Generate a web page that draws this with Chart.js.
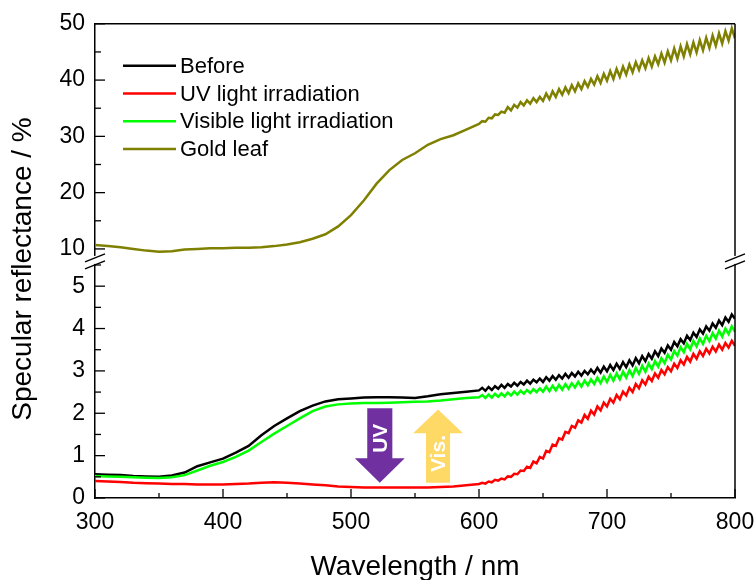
<!DOCTYPE html>
<html><head><meta charset="utf-8">
<script src="https://cdn.jsdelivr.net/npm/chart.js@4.4.1/dist/chart.umd.min.js"></script>
<style>html,body{margin:0;padding:0;background:#fff}canvas{display:block}</style>
</head><body>
<canvas id="c" width="756" height="580"></canvas>
<script>
// ---------------- data ----------------
const wavelengths = [300,310,320,330,340,350,360,370,380,390,400,410,420,430,440,450,460,470,480,490,500,510,520,530,540,550,560,570,580,590,600,
602.5,605,607.5,610,612.5,615,617.5,620,622.5,625,627.5,630,632.5,635,637.5,640,642.5,645,647.5,650,
652.5,655,657.5,660,662.5,665,667.5,670,672.5,675,677.5,680,682.5,685,687.5,690,692.5,695,697.5,700,
702.5,705,707.5,710,712.5,715,717.5,720,722.5,725,727.5,730,732.5,735,737.5,740,742.5,745,747.5,750,
752.5,755,757.5,760,762.5,765,767.5,770,772.5,775,777.5,780,782.5,785,787.5,790,792.5,795,797.5,800];

const before = [0.56,0.55,0.54,0.52,0.51,0.50,0.53,0.60,0.75,0.84,0.93,1.07,1.23,1.48,1.70,1.88,2.05,2.18,2.28,2.33,2.35,2.37,2.38,2.38,2.37,2.36,2.40,2.45,2.48,2.51,2.54,
2.60,2.53,2.62,2.55,2.64,2.58,2.67,2.60,2.69,2.63,
2.72,2.65,2.74,2.68,2.77,2.70,2.79,2.73,2.82,2.74,
2.85,2.77,2.88,2.79,2.90,2.82,2.93,2.84,2.95,2.87,
2.98,2.89,3.00,2.92,3.03,2.94,3.07,2.96,3.10,2.99,
3.14,3.02,3.17,3.05,3.21,3.09,3.25,3.13,3.30,3.18,
3.35,3.23,3.40,3.29,3.46,3.35,3.53,3.43,3.60,3.50,
3.68,3.58,3.75,3.65,3.83,3.73,3.90,3.80,3.98,3.88,
4.05,3.95,4.12,4.02,4.19,4.08,4.26,4.16,4.33,4.23];

const uvIrradiation = [0.40,0.39,0.38,0.36,0.35,0.34,0.33,0.33,0.32,0.32,0.32,0.33,0.34,0.36,0.37,0.36,0.34,0.32,0.30,0.27,0.26,0.25,0.25,0.25,0.25,0.25,0.25,0.26,0.27,0.30,0.33,
0.36,0.34,0.39,0.37,0.43,0.41,0.46,0.44,0.51,0.50,
0.57,0.56,0.65,0.64,0.74,0.71,0.86,0.82,0.97,0.93,
1.11,1.08,1.26,1.23,1.41,1.38,1.56,1.53,1.70,1.66,
1.83,1.78,1.96,1.87,2.06,1.97,2.16,2.07,2.25,2.16,
2.34,2.25,2.43,2.33,2.51,2.42,2.60,2.50,2.69,2.59,
2.78,2.68,2.86,2.76,2.94,2.84,3.02,2.92,3.09,2.99,
3.17,3.07,3.25,3.15,3.33,3.22,3.40,3.29,3.46,3.35,
3.52,3.41,3.57,3.46,3.62,3.50,3.66,3.55,3.71,3.59];

const visibleIrradiation = [0.52,0.51,0.50,0.49,0.48,0.47,0.49,0.54,0.65,0.76,0.85,0.97,1.12,1.32,1.52,1.70,1.88,2.05,2.16,2.21,2.23,2.24,2.24,2.25,2.26,2.27,2.28,2.30,2.33,2.36,2.38,
2.43,2.36,2.44,2.37,2.46,2.39,2.47,2.40,2.49,2.42,
2.51,2.44,2.53,2.46,2.55,2.48,2.57,2.50,2.59,2.51,
2.63,2.52,2.65,2.54,2.67,2.56,2.69,2.58,2.71,2.61,
2.74,2.63,2.77,2.66,2.80,2.69,2.84,2.71,2.87,2.74,
2.91,2.77,2.94,2.80,2.98,2.84,3.02,2.88,3.07,2.93,
3.12,2.98,3.17,3.04,3.23,3.10,3.30,3.18,3.38,3.27,
3.47,3.36,3.56,3.44,3.64,3.51,3.71,3.58,3.77,3.64,
3.83,3.70,3.89,3.76,3.95,3.81,4.00,3.87,4.05,3.92];

const goldLeaf = [10.7,10.5,10.3,10.0,9.7,9.5,9.6,9.9,10.0,10.1,10.1,10.2,10.2,10.3,10.5,10.8,11.2,11.8,12.6,14.0,16.0,18.6,21.6,24.0,25.8,27.0,28.5,29.5,30.2,31.2,32.2,
32.7,32.6,33.3,33.2,33.9,33.8,34.4,34.2,35.2,34.6,
35.6,35.1,36.1,35.5,36.4,35.8,36.8,36.1,37.0,36.3,
37.6,36.6,38.0,37.0,38.4,37.4,38.7,37.7,39.1,38.0,
39.4,38.4,39.8,38.8,40.2,39.2,40.7,39.5,41.1,39.9,
41.6,40.2,42.0,40.6,42.4,41.0,42.8,41.4,43.2,41.8,
43.5,42.1,43.9,42.4,44.2,42.8,44.7,43.1,45.1,43.5,
45.6,43.8,46.0,44.2,46.4,44.6,46.7,44.9,47.1,45.3,
47.5,45.7,47.9,46.1,48.3,46.5,48.7,47.0,49.2,47.4];

const seriesLabels = ['Before', 'UV light irradiation', 'Visible light irradiation', 'Gold leaf'];
const xAxisTitle = 'Wavelength / nm';
const yAxisTitle = 'Specular reflectance / %';
const arrowLabels = ['UV', 'Vis.'];

// ---------------- presentation ----------------
const FONT = '"Liberation Sans", Arial, Helvetica, sans-serif';
const toPoints = vals => wavelengths.map((w, i) => ({x: w, y: vals[i]}));

const arrowNotes = [
  {text: arrowLabels[0], x: 522.5, from: 2.12, headBase: 0.94, tip: 0.36, bodyHalf: 9.8, headHalf: 19.5, textY: 1.41, color: '#7030A0'},
  {text: arrowLabels[1], x: 568, from: 0.36, headBase: 1.53, tip: 2.09, bodyHalf: 9.4, headHalf: 19.5, textY: 1.05, color: '#FFD966'}
];

const decor = {
  id: 'decor',
  afterDatasetsDraw(chart) {
    const ctx = chart.ctx, sx = chart.scales.x, yB = chart.scales.yBot;
    ctx.save();
    for (const a of arrowNotes) {
      const xc = sx.getPixelForValue(a.x);
      const bw = sx.getPixelForValue(a.x + a.bodyHalf) - xc;
      const hw = sx.getPixelForValue(a.x + a.headHalf) - xc;
      const y0 = yB.getPixelForValue(a.from), y1 = yB.getPixelForValue(a.headBase), y2 = yB.getPixelForValue(a.tip);
      ctx.fillStyle = a.color;
      ctx.beginPath();
      ctx.moveTo(xc - bw, y0); ctx.lineTo(xc + bw, y0); ctx.lineTo(xc + bw, y1);
      ctx.lineTo(xc + hw, y1); ctx.lineTo(xc, y2); ctx.lineTo(xc - hw, y1);
      ctx.lineTo(xc - bw, y1); ctx.closePath(); ctx.fill();
      ctx.save();
      ctx.translate(xc, yB.getPixelForValue(a.textY));
      ctx.rotate(-Math.PI / 2);
      ctx.fillStyle = '#ffffff';
      ctx.font = 'bold 21px ' + FONT;
      ctx.textAlign = 'center'; ctx.textBaseline = 'middle';
      ctx.fillText(a.text, 0, 1);
      ctx.restore();
    }
    ctx.restore();
  },
  afterDraw(chart) {
    const ctx = chart.ctx, ca = chart.chartArea;
    const sx = chart.scales.x, yT = chart.scales.yTop, yB = chart.scales.yBot;
    const line = (x1, y1, x2, y2) => { ctx.beginPath(); ctx.moveTo(x1, y1); ctx.lineTo(x2, y2); ctx.stroke(); };
    ctx.save();
    ctx.strokeStyle = '#000'; ctx.lineWidth = 1.5;
    line(ca.left, ca.top, ca.right, ca.top);
    line(ca.right, ca.top, ca.right, ca.bottom);
    // inward ticks
    ctx.lineWidth = 1.3;
    for (const t of sx.ticks) {
      const px = sx.getPixelForValue(t.value);
      line(px, ca.bottom, px, ca.bottom - (t.value % 100 === 0 ? 9 : 5));
    }
    for (const t of yT.ticks) {
      const py = yT.getPixelForValue(t.value);
      line(ca.left, py, ca.left + (t.value % 10 === 0 ? 10 : 6), py);
    }
    for (const t of yB.ticks) {
      const py = yB.getPixelForValue(t.value);
      line(ca.left, py, ca.left + (Number.isInteger(t.value) ? 10 : 6), py);
    }
    // axis break marks at the junction of the two stacked y scales
    const yb = (yT.bottom + yB.top) / 2;
    ctx.fillStyle = '#fff';
    for (const xx of [ca.left, ca.right]) {
      ctx.fillRect(xx - 2, yb - 4, 4, 8);
    }
    ctx.strokeStyle = '#000';
    ctx.lineWidth = 1.3;
    for (const xx of [ca.left, ca.right]) {
      line(xx - 10, yb + 2, xx + 10, yb - 6);
      line(xx - 10, yb + 9, xx + 10, yb + 1);
    }
    // legend
    const ds = chart.data.datasets;
    ctx.font = '22px ' + FONT;
    ctx.textBaseline = 'middle'; ctx.textAlign = 'left';
    [0, 1, 2, 3].forEach((di, k) => {
      const y = ca.top + 42 + k * 27.7;
      ctx.strokeStyle = ds[di].borderColor; ctx.lineWidth = 2.5;
      line(ca.left + 28, y, ca.left + 81, y);
      ctx.fillStyle = '#000';
      ctx.fillText(ds[di].label, ca.left + 85, y + 1);
    });
    // y title
    ctx.save();
    ctx.translate(23.5, 269);
    ctx.rotate(-Math.PI / 2);
    ctx.font = '28px ' + FONT;
    ctx.textAlign = 'center'; ctx.textBaseline = 'middle';
    ctx.fillStyle = '#000';
    ctx.fillText(yAxisTitle, 0, 0);
    ctx.restore();
    ctx.restore();
  }
};

const tickFont = {family: FONT, size: 23};
const noGrid = {display: true, drawOnChartArea: false, drawTicks: false};
const border = {display: true, color: '#000', width: 1.5};

new Chart(document.getElementById('c'), {
  type: 'line',
  data: {
    datasets: [
      {label: seriesLabels[0], data: toPoints(before), borderColor: '#000000', yAxisID: 'yBot', order: 3},
      {label: seriesLabels[1], data: toPoints(uvIrradiation), borderColor: '#ff0000', yAxisID: 'yBot', order: 2},
      {label: seriesLabels[2], data: toPoints(visibleIrradiation), borderColor: '#00ff00', yAxisID: 'yBot', order: 1},
      {label: seriesLabels[3], data: toPoints(goldLeaf), borderColor: '#808000', yAxisID: 'yTop', order: 0}
    ]
  },
  options: {
    responsive: false, animation: false, devicePixelRatio: 1,
    layout: {padding: {top: 22, right: 21, left: 0, bottom: 0}},
    elements: {point: {radius: 0}, line: {borderWidth: 2.5, tension: 0, fill: false}},
    plugins: {legend: {display: false}, tooltip: {enabled: false}},
    scales: {
      x: {
        type: 'linear', min: 300, max: 800,
        ticks: {stepSize: 50, autoSkip: false, maxRotation: 0, includeBounds: false, color: '#000', font: tickFont, padding: 11,
          callback: v => (v % 100 === 0 ? String(v) : '')},
        grid: noGrid, border: border,
        title: {display: true, text: xAxisTitle, color: '#000', font: {family: FONT, size: 28}, padding: {top: 0, bottom: -4}},
        afterFit: s => { s.height = 82; s.paddingLeft = 0; s.paddingRight = 0; }
      },
      yBot: {
        type: 'linear', position: 'left', stack: 'ys', stackWeight: 239, min: 0, max: 5.62,
        ticks: {stepSize: 0.5, autoSkip: false, includeBounds: false, color: '#000', font: tickFont, padding: 10,
          callback: v => (Number.isInteger(v) ? String(v) : '')},
        grid: noGrid, border: border,
        afterFit: s => { s.width = 95; }
      },
      yTop: {
        type: 'linear', position: 'left', stack: 'ys', stackWeight: 237, min: 8.05, max: 50,
        ticks: {stepSize: 5, autoSkip: false, includeBounds: false, color: '#000', font: tickFont, padding: 10,
          callback: v => (v % 10 === 0 ? String(v) : '')},
        grid: noGrid, border: border,
        afterFit: s => { s.width = 95; }
      }
    }
  },
  plugins: [decor]
});
</script>
</body></html>
